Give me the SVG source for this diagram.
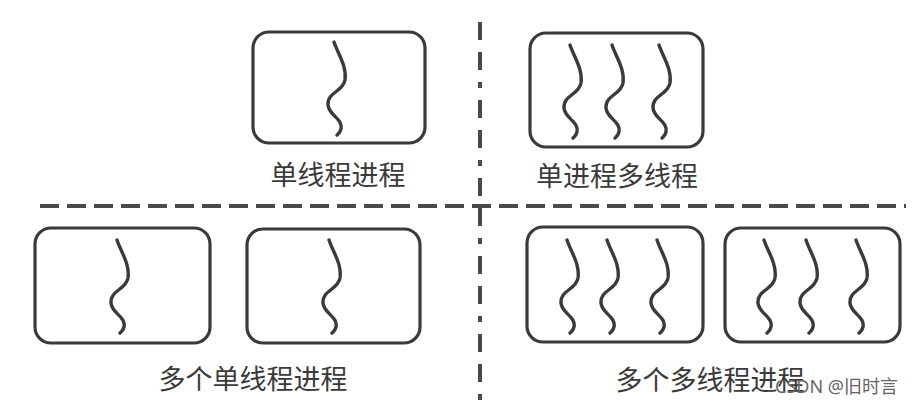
<svg xmlns="http://www.w3.org/2000/svg" xmlns:xlink="http://www.w3.org/1999/xlink" width="914" height="406" viewBox="0 0 914 406">
<style>
.box{fill:#fff;stroke:#3a3a3a;stroke-width:3.2}
.sq{fill:none;stroke:#3a3a3a;stroke-width:3.4;stroke-linecap:round}
.lbl{font-family:"Noto Sans CJK SC","Noto Sans",sans-serif;font-size:27px;fill:#3a3a3a;text-anchor:middle}
.sep{fill:none;stroke:#4a4a4a;stroke-width:4}
.wm{font-family:"Noto Sans","Noto Sans CJK SC",sans-serif;font-size:18px;fill:#666;text-anchor:end}
</style>
<defs>
<path id="sq" d="M0,0 C4,12 13,24 11,38 C9,50 -7,50 -6,63 C-5,74 9,76 7,87 C6,91 4,92 3,93"/>
</defs>
<rect width="914" height="406" fill="#fff"/>
<g id="separators">
<line class="sep" x1="480" y1="22" x2="480" y2="402" stroke-dasharray="18 12 18 12 6 12"/>
<line class="sep" x1="40" y1="206" x2="906" y2="206" stroke-dasharray="19 8"/>
</g>
<g id="single-thread-process">
<rect class="box" x="253" y="32" width="172" height="111" rx="16"/>
<use class="sq" href="#sq" x="334" y="42"/>
<text class="lbl" x="338" y="185">单线程进程</text>
</g>
<g id="single-process-multi-thread">
<rect class="box" x="530" y="33" width="173" height="114" rx="16"/>
<use class="sq" href="#sq" x="570" y="45"/>
<use class="sq" href="#sq" x="612" y="45"/>
<use class="sq" href="#sq" x="659" y="45"/>
<text class="lbl" x="617" y="186">单进程多线程</text>
</g>
<g id="multi-single-thread-processes">
<rect class="box" x="35" y="228" width="175" height="115" rx="16"/>
<use class="sq" href="#sq" x="117" y="240"/>
<rect class="box" x="247" y="229" width="173" height="114" rx="16"/>
<use class="sq" href="#sq" x="329" y="240"/>
<text class="lbl" x="253" y="389">多个单线程进程</text>
</g>
<g id="multi-multi-thread-processes">
<rect class="box" x="527" y="227" width="176" height="115" rx="16"/>
<use class="sq" href="#sq" x="567" y="240"/>
<use class="sq" href="#sq" x="607" y="240"/>
<use class="sq" href="#sq" x="657" y="240"/>
<rect class="box" x="725" y="228" width="175" height="114" rx="16"/>
<use class="sq" href="#sq" x="764" y="240"/>
<use class="sq" href="#sq" x="806" y="240"/>
<use class="sq" href="#sq" x="856" y="240"/>
<text class="lbl" x="710" y="390">多个多线程进程</text>
</g>
<text class="wm" x="898" y="393">CSDN @旧时言</text>
</svg>
